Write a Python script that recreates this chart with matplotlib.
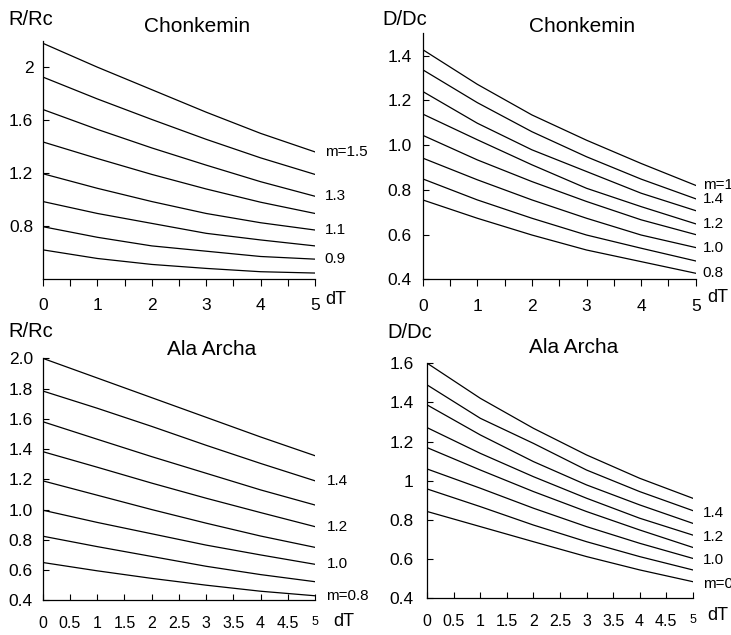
"""Four-panel R/Rc and D/Dc vs dT curves for Chonkemin and Ala Archa."""

import matplotlib
matplotlib.use('Agg')
import matplotlib.pyplot as plt

plt.rcParams['font.family'] = ['Liberation Sans', 'DejaVu Sans']

W, H = 731, 635

dT = [0, 1, 2, 3, 4, 5]
m_values = [1.5, 1.4, 1.3, 1.2, 1.1, 1.0, 0.9, 0.8]

# R/Rc, Chonkemin (one row per m, top to bottom)
rrc_chonkemin = [
    [2.18, 2.00, 1.83, 1.66, 1.50, 1.36],
    [1.925, 1.76, 1.605, 1.455, 1.315, 1.19],
    [1.68, 1.53, 1.39, 1.26, 1.135, 1.025],
    [1.435, 1.31, 1.19, 1.08, 0.98, 0.895],
    [1.195, 1.085, 0.985, 0.895, 0.825, 0.77],
    [0.985, 0.895, 0.82, 0.745, 0.695, 0.65],
    [0.795, 0.715, 0.65, 0.61, 0.57, 0.55],
    [0.62, 0.555, 0.51, 0.48, 0.455, 0.445],
]

# D/Dc, Chonkemin
ddc_chonkemin = [
    [1.427, 1.272, 1.135, 1.022, 0.918, 0.82],
    [1.337, 1.19, 1.06, 0.948, 0.848, 0.76],
    [1.24, 1.098, 0.979, 0.882, 0.785, 0.707],
    [1.139, 1.024, 0.912, 0.807, 0.725, 0.648],
    [1.044, 0.934, 0.837, 0.748, 0.666, 0.60],
    [0.942, 0.845, 0.755, 0.673, 0.598, 0.542],
    [0.849, 0.755, 0.673, 0.598, 0.539, 0.482],
    [0.755, 0.673, 0.598, 0.531, 0.479, 0.427],
]

# R/Rc, Ala Archa
rrc_alaarcha = [
    [2.00, 1.87, 1.74, 1.61, 1.48, 1.356],
    [1.784, 1.67, 1.55, 1.425, 1.305, 1.19],
    [1.581, 1.465, 1.35, 1.24, 1.13, 1.03],
    [1.383, 1.28, 1.175, 1.075, 0.98, 0.887],
    [1.19, 1.095, 1.00, 0.91, 0.825, 0.75],
    [0.996, 0.915, 0.84, 0.765, 0.70, 0.638],
    [0.824, 0.755, 0.69, 0.625, 0.57, 0.523],
    [0.65, 0.595, 0.545, 0.50, 0.46, 0.43],
]

# D/Dc, Ala Archa
ddc_alaarcha = [
    [1.60, 1.421, 1.268, 1.132, 1.013, 0.911],
    [1.489, 1.319, 1.191, 1.055, 0.945, 0.848],
    [1.387, 1.234, 1.098, 0.979, 0.877, 0.783],
    [1.271, 1.14, 1.021, 0.911, 0.809, 0.723],
    [1.169, 1.055, 0.945, 0.843, 0.749, 0.660],
    [1.06, 0.962, 0.860, 0.766, 0.681, 0.604],
    [0.958, 0.868, 0.774, 0.689, 0.613, 0.545],
    [0.843, 0.766, 0.689, 0.613, 0.545, 0.485],
]

# curve labels: (row index, text)
labels_rrc_ch = [(0, 'm=1.5'), (2, '1.3'), (4, '1.1'), (6, '0.9')]
labels_ddc_ch = [(0, 'm=1.5'), (1, '1.4'), (3, '1.2'), (5, '1.0'), (7, '0.8')]
labels_rrc_aa = [(1, '1.4'), (3, '1.2'), (5, '1.0'), (7, 'm=0.8')]
labels_ddc_aa = [(1, '1.4'), (3, '1.2'), (5, '1.0'), (7, 'm=0.8')]

yticks_rrc_ch = [0.8, 1.2, 1.6, 2.0]
yticklabels_rrc_ch = ['0.8', '1.2', '1.6', '2']
yticks_ddc_ch = [0.4, 0.6, 0.8, 1.0, 1.2, 1.4]
yticklabels_ddc_ch = ['0.4', '0.6', '0.8', '1.0', '1.2', '1.4']
yticks_rrc_aa = [0.4, 0.6, 0.8, 1.0, 1.2, 1.4, 1.6, 1.8, 2.0]
yticklabels_rrc_aa = ['0.4', '0.6', '0.8', '1.0', '1.2', '1.4', '1.6', '1.8', '2.0']
yticks_ddc_aa = [0.4, 0.6, 0.8, 1.0, 1.2, 1.4, 1.6]
yticklabels_ddc_aa = ['0.4', '0.6', '0.8', '1', '1.2', '1.4', '1.6']

xticks_half = [0, 0.5, 1, 1.5, 2, 2.5, 3, 3.5, 4, 4.5, 5]
xticklabels_half = ['0', '0.5', '1', '1.5', '2', '2.5', '3', '3.5', '4', '4.5', '5']


def _rect(left, top, right, bottom):
    """Pixel box -> figure-fraction [l, b, w, h]."""
    return [left / W, 1 - bottom / H, (right - left) / W, (bottom - top) / H]


def _ftext(fig, x, y, s, **kw):
    fig.text(x / W, 1 - y / H, s, **kw)


def _panel(fig, rect, curves, labels, ylim, yticks, yticklabels,
           half_ticks, ypad, label_dx, label_dy=0.0):
    ax = fig.add_axes(rect)
    for row in curves:
        ax.plot(dT, row, color='black', lw=0.9)
    for idx, txt in labels:
        ax.text(5 + label_dx, curves[idx][-1] + label_dy, txt,
                ha='left', va='center', fontsize=11, clip_on=False)
    ax.set_xlim(0, 5)
    ax.set_ylim(*ylim)
    ax.set_yticks(yticks)
    ax.set_yticklabels(yticklabels, fontsize=12.5)
    ax.tick_params(axis='y', direction='in', length=4, pad=ypad, width=0.8)
    if half_ticks:
        ax.set_xticks(xticks_half)
        ax.set_xticklabels(xticklabels_half, fontsize=11.5)
        ax.get_xticklabels()[-1].set_fontsize(9)
        ax.tick_params(axis='x', direction='in', length=4, pad=11, width=0.8)
    else:
        ax.set_xticks(dT)
        ax.set_xticklabels([str(v) for v in dT], fontsize=12.5)
        ax.set_xticks(xticks_half[1::2], minor=True)
        ax.tick_params(axis='x', which='both', direction='out', length=5,
                       pad=9, width=0.8)
    for side in ('top', 'right'):
        ax.spines[side].set_visible(False)
    for side in ('left', 'bottom'):
        ax.spines[side].set_linewidth(0.9)
    return ax


fig = plt.figure(figsize=(W / 100, H / 100), dpi=100)

_panel(fig, _rect(43, 40.7, 315, 279), rrc_chonkemin, labels_rrc_ch,
       (0.4, 2.2), yticks_rrc_ch, yticklabels_rrc_ch, False, 7, 0.18)
_panel(fig, _rect(422.7, 33.3, 695.7, 279.3), ddc_chonkemin, labels_ddc_ch,
       (0.4, 1.5), yticks_ddc_ch, yticklabels_ddc_ch, False, 8, 0.13)
_panel(fig, _rect(42.7, 358.3, 315, 600.3), rrc_alaarcha, labels_rrc_aa,
       (0.4, 2.0), yticks_rrc_aa, yticklabels_rrc_aa, True, 7, 0.21)
_panel(fig, _rect(427.3, 363.3, 692.7, 598.3), ddc_alaarcha, labels_ddc_aa,
       (0.4, 1.6), yticks_ddc_aa, yticklabels_ddc_aa, True, 10, 0.2, -0.01)

title_kw = dict(fontsize=15, ha='center', va='baseline')
_ftext(fig, 197, 31.5, 'Chonkemin', **title_kw)
_ftext(fig, 582, 31.5, 'Chonkemin', **title_kw)
_ftext(fig, 212, 355, 'Ala Archa', **title_kw)
_ftext(fig, 574, 353, 'Ala Archa', **title_kw)

ylab_kw = dict(fontsize=14.5, ha='left', va='baseline')
_ftext(fig, 8, 25, 'R/Rc', **ylab_kw)
_ftext(fig, 382, 25, 'D/Dc', **ylab_kw)
_ftext(fig, 8, 337, 'R/Rc', **ylab_kw)
_ftext(fig, 387, 338, 'D/Dc', **ylab_kw)

dt_kw = dict(fontsize=13, ha='left', va='center')
_ftext(fig, 325, 299, 'dT', **dt_kw)
_ftext(fig, 707, 298, 'dT', **dt_kw)
_ftext(fig, 333, 622, 'dT', **dt_kw)
_ftext(fig, 707, 616, 'dT', **dt_kw)

fig.savefig('out.png', dpi=100)
